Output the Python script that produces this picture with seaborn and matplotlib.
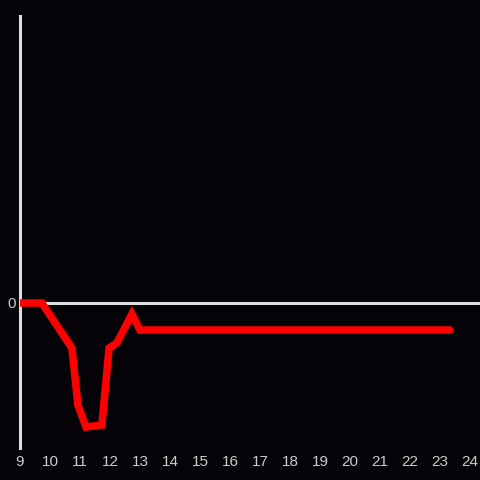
import matplotlib
matplotlib.use("Agg")
import matplotlib.pyplot as plt
import seaborn as sns
import pandas as pd

hours = [9.0, 9.73, 10.73, 10.93, 11.2, 11.73, 11.97, 12.23, 12.73, 13.0, 23.33]
values = [0.0, 0.0, -4.5, -10.2, -12.4, -12.2, -4.5, -4.0, -1.1, -2.7, -2.7]
xticks = list(range(9, 25))

df = pd.DataFrame({"hour": hours, "value": values})

sns.set_style("dark")
plt.rcParams['font.family'] = ['Liberation Sans', 'DejaVu Sans']

bg = '#050307'
fig = plt.figure(figsize=(4.8, 4.8), dpi=100, facecolor=bg)
ax = fig.add_axes([20/480, 1-448/480, 460/480, 432/480])
ax.set_facecolor(bg)

ax.axhline(0, color='#dedede', lw=2.2, zorder=1)
sns.lineplot(data=df, x="hour", y="value", ax=ax, color='#ff0000', lw=5.4,
             solid_joinstyle='miter', zorder=3)

ax.set_xlim(9, 9 + 460/30)
ax.set_ylim(-14.5, 28.7)
ax.set_xticks(xticks)
ax.set_xticklabels([str(t) for t in xticks])
ax.set_yticks([0])
ax.set_yticklabels(['0'])
ax.tick_params(axis='both', length=0, colors='#cccccc', labelsize=11)
ax.tick_params(axis='x', pad=5)
ax.tick_params(axis='y', pad=3)
ax.grid(False)
ax.set_xlabel('')
ax.set_ylabel('')
for s in ['top', 'right', 'bottom']:
    ax.spines[s].set_visible(False)
ax.spines['left'].set_visible(True)
ax.spines['left'].set_color('#dedede')
ax.spines['left'].set_linewidth(2.2)

fig.savefig('out.png', dpi=100, facecolor=bg)
